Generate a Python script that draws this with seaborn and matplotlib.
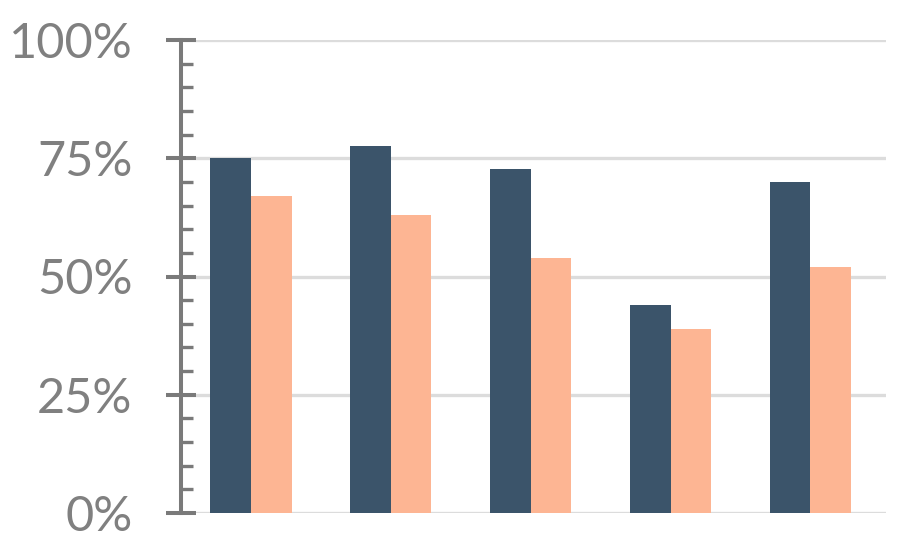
import matplotlib
matplotlib.use("Agg")
import matplotlib.pyplot as plt
from matplotlib.ticker import MultipleLocator, PercentFormatter
import seaborn as sns
import pandas as pd

categories = ["A", "B", "C", "D", "E"]
series_names = ["Series 1", "Series 2"]
series1 = [75, 77.6, 72.7, 44, 70]
series2 = [67, 63, 54, 39, 52]
y_ticks = [0, 25, 50, 75, 100]

df = pd.DataFrame({
    "category": categories * 2,
    "series": [series_names[0]] * len(categories) + [series_names[1]] * len(categories),
    "value": series1 + series2,
})

sns.set_theme(style="white")
plt.rcParams["font.family"] = ["Lato", "DejaVu Sans"]

fig = plt.figure(figsize=(9.04, 5.44), dpi=100)
ax = fig.add_axes([181 / 904, 31 / 544, (886 - 181) / 904, (513 - 40) / 544])

sns.barplot(data=df, x="category", y="value", hue="series",
            palette=["#3b546a", "#fdb593"], width=0.58, gap=0,
            saturation=1, ax=ax, legend=False, zorder=3, linewidth=0)

ax.set_ylim(0, 100)
ax.set_xlim(-0.5, 4.54)
ax.set_yticks(y_ticks)
ax.yaxis.set_minor_locator(MultipleLocator(5))
ax.yaxis.set_major_formatter(PercentFormatter(decimals=0))
ax.grid(axis="y", color="#dcdcdc", linewidth=2.4, zorder=0)
ax.set_axisbelow(True)

for s in ["top", "right", "bottom"]:
    ax.spines[s].set_visible(False)
ax.spines["left"].set_color("#7a7a7a")
ax.spines["left"].set_linewidth(2.9)
ax.spines["left"].set_zorder(5)

ax.tick_params(axis="y", which="major", left=True, direction="inout", length=22, width=2.9,
               color="#7a7a7a", pad=24, labelsize=35, labelcolor="#808080")
ax.tick_params(axis="y", which="minor", left=True, direction="in", length=8.6, width=2.4,
               color="#7a7a7a")
ax.set_xticks([])
ax.set_xlabel("")
ax.set_ylabel("")

fig.savefig("out.png", dpi=100)
